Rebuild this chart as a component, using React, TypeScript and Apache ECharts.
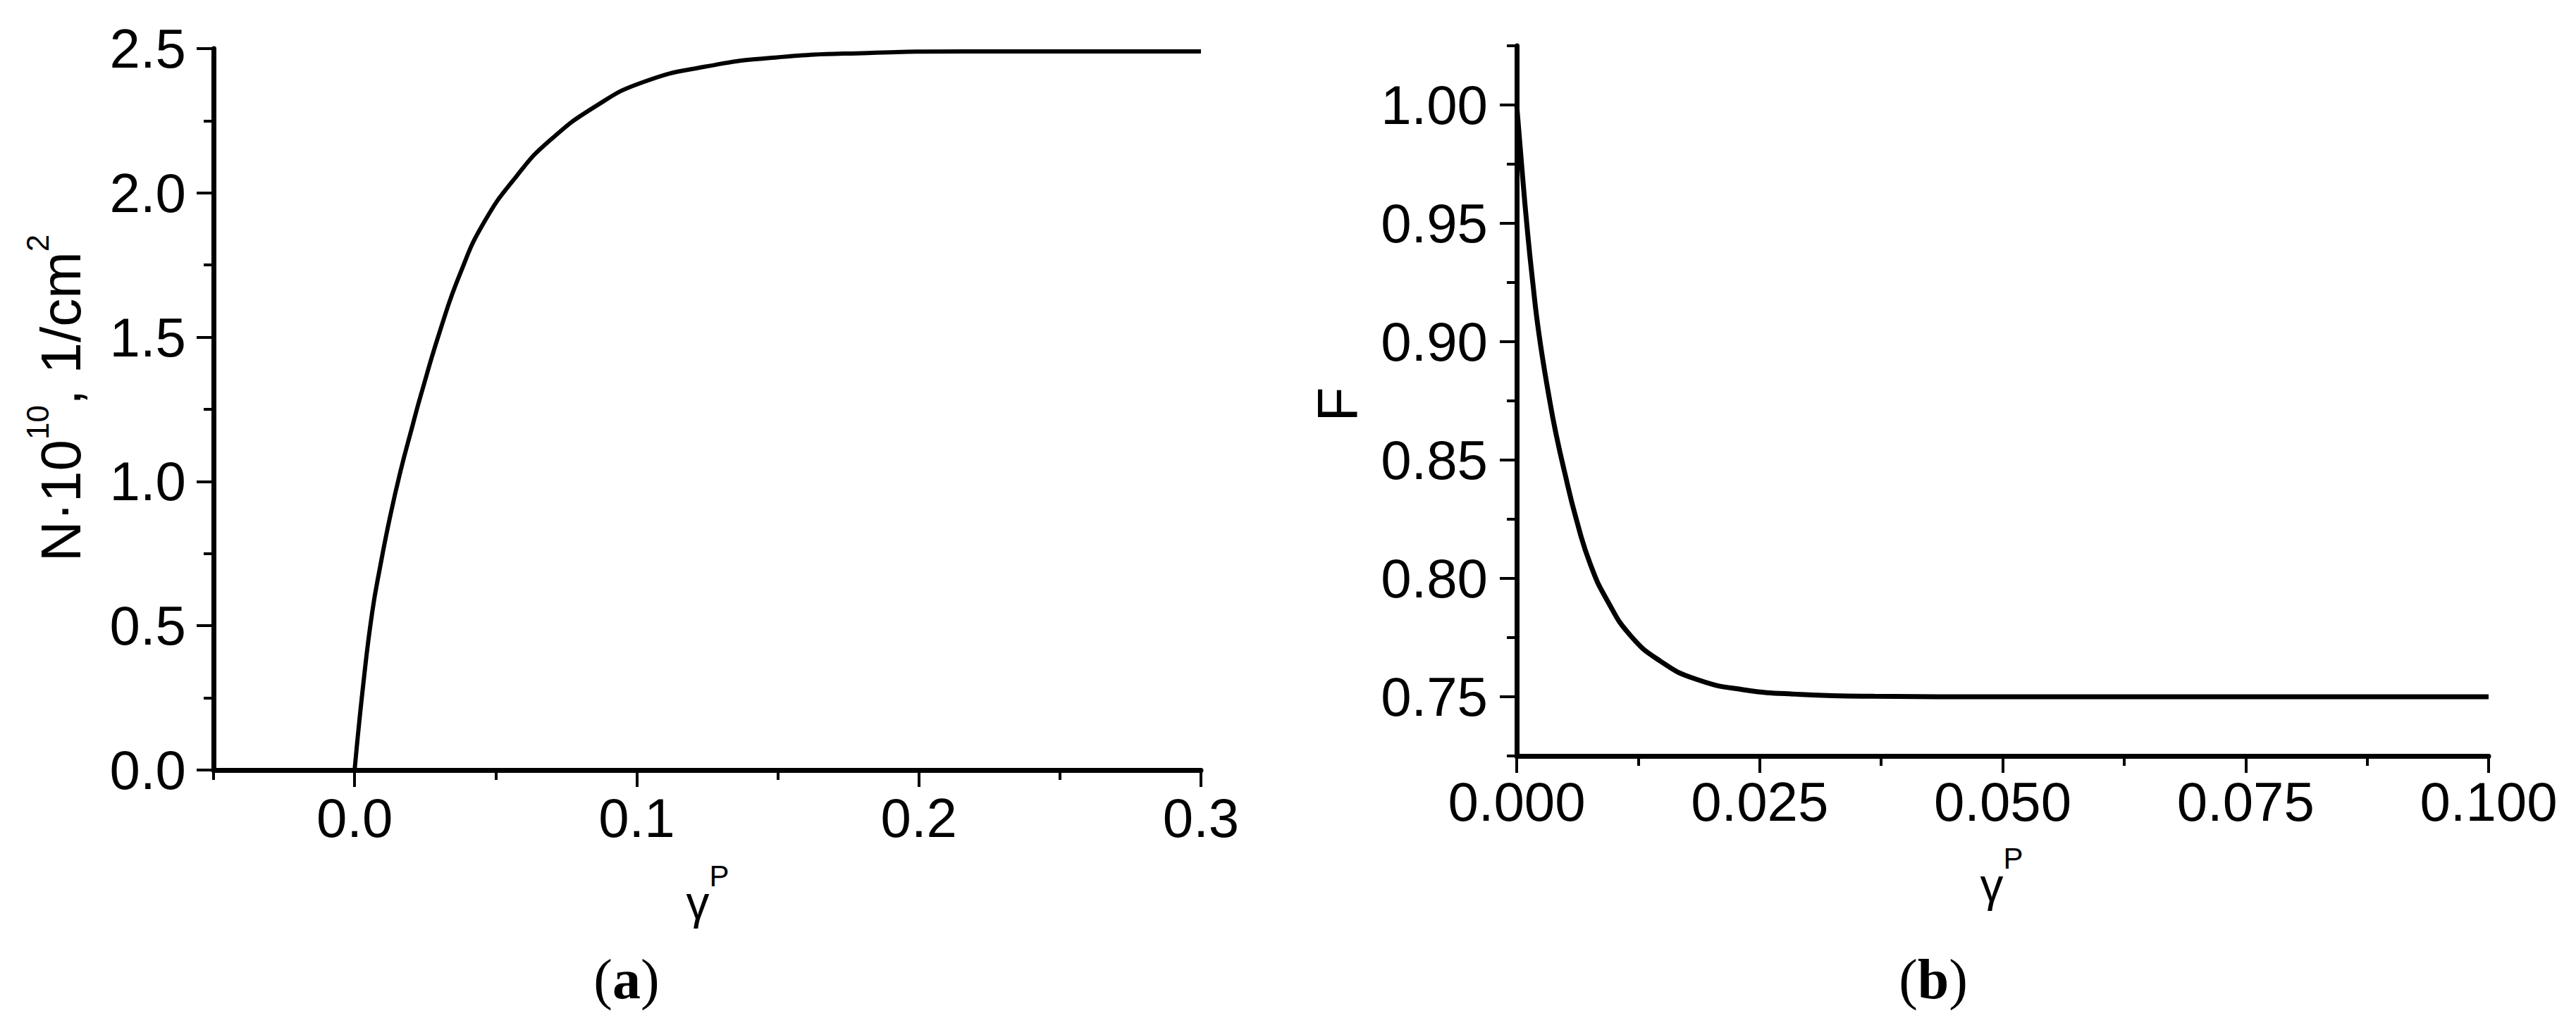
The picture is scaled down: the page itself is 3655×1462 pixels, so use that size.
import React, { useEffect, useRef } from 'react';
import * as echarts from 'echarts';

// ---- data ----
// (a) N·10^10 vs gamma^P
const leftGamma = [0, 0.0031, 0.0062, 0.0091, 0.0124, 0.0162, 0.0206, 0.0235, 0.0305, 0.0374, 0.0457, 0.0574, 0.069, 0.0857, 0.1023, 0.124, 0.149, 0.182, 0.216, 0.25, 0.3];
const leftN = [0, 0.30, 0.544, 0.707, 0.87, 1.033, 1.196, 1.30, 1.529, 1.72, 1.895, 2.058, 2.18, 2.302, 2.384, 2.437, 2.469, 2.485, 2.49, 2.49, 2.49];
// (b) F vs gamma^P
const rightGamma = [0, 0.0006, 0.0011, 0.0016, 0.0023, 0.0034, 0.0041, 0.0049, 0.0061, 0.0076, 0.0093, 0.0117, 0.0148, 0.0184, 0.0233, 0.0293, 0.0368, 0.05, 0.075, 0.1];
const rightF = [1.0, 0.97, 0.947, 0.927, 0.903, 0.875, 0.86, 0.8454, 0.8255, 0.8057, 0.7908, 0.7759, 0.765, 0.7575, 0.753, 0.751, 0.7502, 0.75, 0.75, 0.75];

// ---- ticks ----
const leftXMajor = [0, 0.1, 0.2, 0.3];
const leftXMinor = [-0.05, 0.05, 0.15, 0.25];
const leftYMajor = [0, 0.5, 1.0, 1.5, 2.0, 2.5];
const leftYMinor = [0.25, 0.75, 1.25, 1.75, 2.25];
const rightXMajor = [0, 0.025, 0.05, 0.075, 0.1];
const rightXMinor = [0.0125, 0.0375, 0.0625, 0.0875];
const rightYMajor = [0.75, 0.8, 0.85, 0.9, 0.95, 1.0];
const rightYMinor = [0.725, 0.775, 0.825, 0.875, 0.925, 0.975, 1.025];

const FONT = 'Liberation Sans';
const SERIF = 'Liberation Serif';
const BLACK = '#000';

function mainAxis(dim: 'x' | 'y', grid: number, min: number, max: number, major: number[], digits: number, margin: number) {
  return {
    type: 'value',
    gridIndex: grid,
    min,
    max,
    position: dim === 'x' ? 'bottom' : 'left',
    axisLine: { show: true, onZero: false, lineStyle: { color: BLACK, width: 7 } },
    axisTick: { show: true, inside: false, length: 24, customValues: major, lineStyle: { color: BLACK, width: 4 } },
    axisLabel: {
      show: true,
      customValues: major,
      formatter: (v: number) => Number(v).toFixed(digits),
      margin,
      color: BLACK,
      fontSize: 78,
      fontFamily: FONT,
    },
    splitLine: { show: false },
    minorTick: { show: false },
  };
}

function minorAxis(dim: 'x' | 'y', grid: number, min: number, max: number, minor: number[]) {
  return {
    type: 'value',
    gridIndex: grid,
    min,
    max,
    position: dim === 'x' ? 'bottom' : 'left',
    axisLine: { show: false, onZero: false },
    axisTick: { show: true, inside: false, length: 14, customValues: minor, lineStyle: { color: BLACK, width: 4 } },
    axisLabel: { show: false },
    splitLine: { show: false },
  };
}

export default function App() {
  const ref = useRef<HTMLDivElement>(null);

  useEffect(() => {
    if (!ref.current) return;
    const chart = echarts.init(ref.current, undefined, { renderer: 'svg' });

    const option: any = {
      animation: false,
      backgroundColor: '#fff',
      grid: [
        { left: 303, top: 69, width: 1401, height: 1024, outerBoundsMode: 'none', containLabel: false },
        { left: 2152, top: 65, width: 1379, height: 1008, outerBoundsMode: 'none', containLabel: false },
      ],
      xAxis: [
        mainAxis('x', 0, -0.05, 0.3, leftXMajor, 1, 29),
        minorAxis('x', 0, -0.05, 0.3, leftXMinor),
        mainAxis('x', 1, 0, 0.1, rightXMajor, 3, 26),
        minorAxis('x', 1, 0, 0.1, rightXMinor),
      ],
      yAxis: [
        mainAxis('y', 0, 0, 2.5, leftYMajor, 1, 39),
        minorAxis('y', 0, 0, 2.5, leftYMinor),
        mainAxis('y', 1, 0.725, 1.025, rightYMajor, 2, 41),
        minorAxis('y', 1, 0.725, 1.025, rightYMinor),
      ],
      series: [
        {
          type: 'line',
          xAxisIndex: 0,
          yAxisIndex: 0,
          data: leftGamma.map((g, i) => [g, leftN[i]]),
          symbol: 'none',
          showSymbol: false,
          smooth: 0.5,
          lineStyle: { color: BLACK, width: 6 },
          z: 5,
        },
        {
          type: 'line',
          xAxisIndex: 2,
          yAxisIndex: 2,
          data: rightGamma.map((g, i) => [g, rightF[i]]),
          symbol: 'none',
          showSymbol: false,
          smooth: 0.5,
          lineStyle: { color: BLACK, width: 7 },
          z: 5,
        },
      ],
      graphic: [
        {
          type: 'text',
          x: 86,
          y: 565,
          rotation: Math.PI / 2,
          style: {
            text: '{m|N\u00B710}{s|10}{m|, 1/cm}{s|2}',
            align: 'center',
            verticalAlign: 'middle',
            fill: BLACK,
            rich: {
              m: { fontSize: 80, fontFamily: FONT, lineHeight: 110, fill: BLACK },
              s: { fontSize: 44, fontFamily: FONT, lineHeight: 44, verticalAlign: 'top', fill: BLACK },
            },
          },
        },
        {
          type: 'text',
          x: 1897,
          y: 574,
          rotation: Math.PI / 2,
          style: { text: 'F', fontSize: 80, fontFamily: FONT, fill: BLACK, align: 'center', verticalAlign: 'middle' },
        },
        {
          type: 'text',
          x: 1004,
          y: 1281,
          style: {
            text: '{g|\u03B3}{p|P}',
            align: 'center',
            verticalAlign: 'middle',
            fill: BLACK,
            rich: {
              g: { fontSize: 66, fontFamily: FONT, lineHeight: 117, fill: BLACK },
              p: { fontSize: 42, fontFamily: FONT, lineHeight: 42, verticalAlign: 'top', fill: BLACK },
            },
          },
        },
        {
          type: 'text',
          x: 2840,
          y: 1256,
          style: {
            text: '{g|\u03B3}{p|P}',
            align: 'center',
            verticalAlign: 'middle',
            fill: BLACK,
            rich: {
              g: { fontSize: 66, fontFamily: FONT, lineHeight: 117, fill: BLACK },
              p: { fontSize: 42, fontFamily: FONT, lineHeight: 42, verticalAlign: 'top', fill: BLACK },
            },
          },
        },
        {
          type: 'text',
          x: 889,
          y: 1390,
          style: {
            text: '{n|(}{b|a}{n|)}',
            align: 'center',
            verticalAlign: 'middle',
            fill: BLACK,
            rich: {
              n: { fontSize: 80, fontFamily: SERIF, fill: BLACK },
              b: { fontSize: 80, fontFamily: SERIF, fontWeight: 'bold', fill: BLACK },
            },
          },
        },
        {
          type: 'text',
          x: 2743,
          y: 1390,
          style: {
            text: '{n|(}{b|b}{n|)}',
            align: 'center',
            verticalAlign: 'middle',
            fill: BLACK,
            rich: {
              n: { fontSize: 80, fontFamily: SERIF, fill: BLACK },
              b: { fontSize: 80, fontFamily: SERIF, fontWeight: 'bold', fill: BLACK },
            },
          },
        },
      ],
    };

    chart.setOption(option);
    return () => {
      chart.dispose();
    };
  }, []);

  return (
    <div
      ref={ref}
      style={{ position: 'fixed', left: 0, top: 0, width: '3655px', height: '1462px', background: '#fff' }}
    />
  );
}
